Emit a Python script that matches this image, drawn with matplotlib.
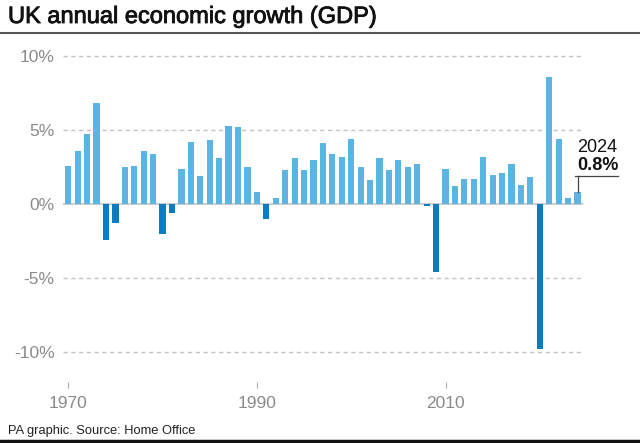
import matplotlib
matplotlib.use("Agg")
import matplotlib.pyplot as plt
import matplotlib.patheffects as pe
import numpy as np

years = list(range(1970, 2025))
growth = [2.6, 3.6, 4.7, 6.8, -2.4, -1.3, 2.5, 2.6, 3.6, 3.4,
          -2.0, -0.6, 2.4, 4.2, 1.9, 4.3, 3.1, 5.3, 5.2, 2.5,
          0.8, -1.0, 0.4, 2.3, 3.1, 2.3, 3.0, 4.1, 3.4, 3.2,
          4.4, 2.5, 1.6, 3.1, 2.3, 3.0, 2.5, 2.7, -0.1, -4.6,
          2.4, 1.2, 1.7, 1.7, 3.2, 2.0, 2.1, 2.7, 1.3, 1.8,
          -9.8, 8.6, 4.4, 0.4, 0.8]
ytick_vals = [-10, -5, 0, 5, 10]
ytick_labels = ["-10%", "-5%", "0%", "5%", "10%"]
xtick_vals = [1970, 1990, 2010]
title = "UK annual economic growth (GDP)"
source = "PA graphic. Source: Home Office"
last_year_label = "2024"
last_value_label = "0.8%"

plt.rcParams['font.family'] = ['Liberation Sans', 'DejaVu Sans']

POS = "#5ab5e2"
NEG = "#0b7dbf"
GRID = "#c2c2c2"
TICK = "#8a8a8a"

fig = plt.figure(figsize=(6.4, 4.43), dpi=100)
W, H = 640, 443
ax = fig.add_axes([63 / W, (H - 382) / H, 520 / W, (382 - 50) / H])

colors = [POS if v >= 0 else NEG for v in growth]
ax.bar(years, growth, width=0.66, color=colors, zorder=3)

ax.set_xlim(1969.44, 2024.58)
ax.set_ylim(-12.0, 10.4)

for v in ytick_vals:
    if v == 0:
        ax.axhline(v, color=GRID, lw=1.2, zorder=2)
    else:
        ax.axhline(v, color=GRID, lw=1.0, ls=(0, (3, 2.6)), zorder=1)

ax.set_yticks(ytick_vals)
ax.set_yticklabels(ytick_labels)
ax.set_xticks(xtick_vals)
ax.set_xticklabels([str(x) for x in xtick_vals])
ax.tick_params(axis='y', length=0, pad=6, labelsize=12.5, labelcolor=TICK)
ax.tick_params(axis='x', length=4, width=0.8, color="#aaaaaa", direction='out',
               pad=6, labelsize=12.5, labelcolor=TICK)
for s in ax.spines.values():
    s.set_visible(False)

# annotation for last value
lx, lv = years[-1], growth[-1]
ax.plot([lx, lx], [lv, 1.9], color="#444444", lw=0.9, zorder=4, clip_on=False)
ax.plot([lx - 0.3, lx + 4.3], [1.9, 1.9], color="#444444", lw=0.9, zorder=4, clip_on=False)
ax.text(lx, 3.85, last_year_label, fontsize=13, color="#111111", ha='left', va='center')
ax.text(lx, 2.6, last_value_label, fontsize=13, fontweight='bold', color="#111111",
        ha='left', va='center')

t = fig.text(8 / W, 1 - 17 / H, title, fontsize=17, color="#111111", ha='left', va='center')
t.set_path_effects([pe.withStroke(linewidth=0.6, foreground="#111111")])
fig.add_artist(plt.Line2D([0, 1], [1 - 33 / H, 1 - 33 / H], color="#555555", lw=1.5,
                          transform=fig.transFigure))
fig.text(8 / W, 1 - 431 / H, source, fontsize=9.3, color="#222222", ha='left', va='center')
fig.add_artist(plt.Line2D([0, 1], [1 - 440.5 / H, 1 - 440.5 / H], color="#111111", lw=2.5,
                          transform=fig.transFigure))

fig.savefig("out.png", dpi=100, facecolor="white")
